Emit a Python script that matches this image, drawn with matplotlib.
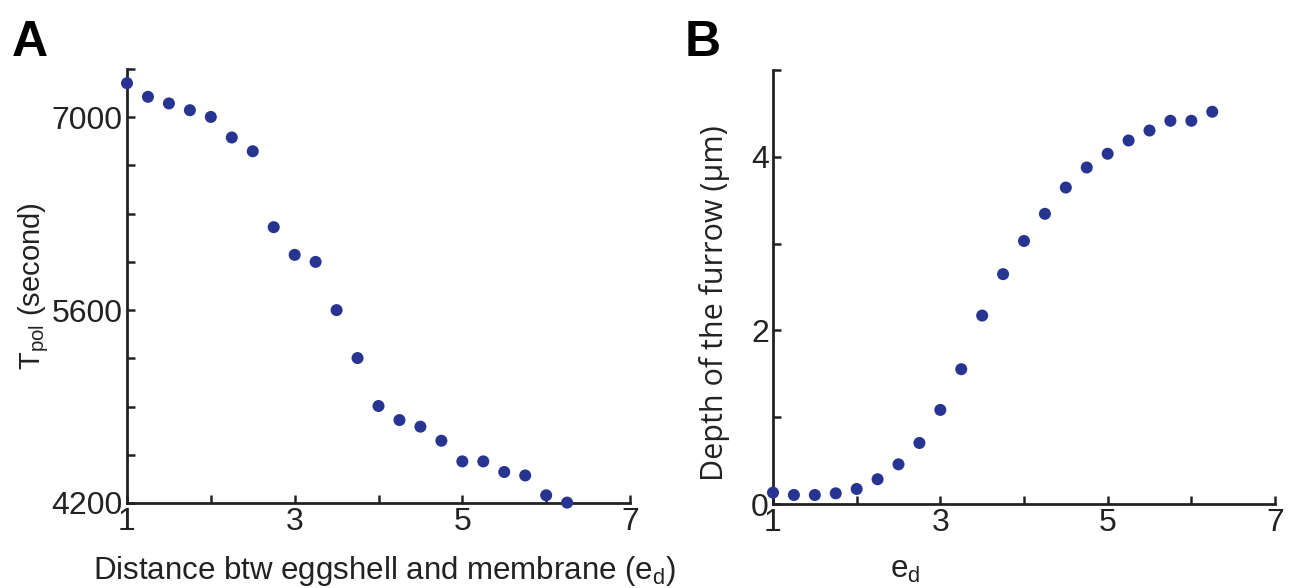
import matplotlib
matplotlib.use("Agg")
import matplotlib.pyplot as plt
from matplotlib.ticker import MultipleLocator, FixedLocator

plt.rcParams['font.family'] = ['Liberation Sans', 'DejaVu Sans']
plt.rcParams['mathtext.fontset'] = 'custom'
plt.rcParams['mathtext.rm'] = 'Liberation Sans'
plt.rcParams['mathtext.it'] = 'Liberation Sans'

# ---- data ----
ed = [1.0, 1.25, 1.5, 1.75, 2.0, 2.25, 2.5, 2.75, 3.0, 3.25, 3.5,
      3.75, 4.0, 4.25, 4.5, 4.75, 5.0, 5.25, 5.5, 5.75, 6.0, 6.25]
t_pol = [7247, 7148, 7100, 7051, 7002, 6853, 6753, 6202, 6001, 5950, 5600,
         5252, 4904, 4802, 4754, 4652, 4502, 4502, 4425, 4400, 4256, 4203]
depth = [0.131, 0.104, 0.104, 0.123, 0.173, 0.285, 0.457, 0.703, 1.084, 1.553, 2.171,
         2.648, 3.03, 3.343, 3.646, 3.877, 4.035, 4.188, 4.303, 4.415, 4.415, 4.519]

xticks_major = [1, 3, 5, 7]
yticks_A = [4200, 5600, 7000]
yticks_B = [0, 2, 4]

color = '#283491'
W, H = 1298, 588
fig = plt.figure(figsize=(W / 100, H / 100), dpi=100)

axA = fig.add_axes([127 / W, 1 - 503 / H, 503 / W, 434 / H])
axB = fig.add_axes([773 / W, 1 - 504 / H, 502 / W, 434 / H])

def style(ax):
    for s in ['top', 'right']:
        ax.spines[s].set_visible(False)
    for s in ['left', 'bottom']:
        ax.spines[s].set_linewidth(2.0)
        ax.spines[s].set_color('#222222')
    ax.tick_params(which='both', direction='in', width=1.8, color='#222222',
                   labelsize=23, labelcolor='#222222')
    ax.tick_params(which='major', length=6)
    ax.tick_params(which='minor', length=6)
    ax.tick_params(axis='y', pad=3)
    ax.tick_params(axis='x', pad=3)
    ax.set_xlim(1, 7)
    ax.xaxis.set_major_locator(FixedLocator(xticks_major))
    ax.xaxis.set_minor_locator(MultipleLocator(1))

# Panel A
axA.scatter(ed, t_pol, s=75, color=color, edgecolors='none', clip_on=False, zorder=3)
style(axA)
axA.set_ylim(4200, 7350)
axA.yaxis.set_major_locator(FixedLocator(yticks_A))
axA.yaxis.set_minor_locator(MultipleLocator(350))
axA.set_xlabel('Distance btw eggshell and membrane (e$_{\\mathregular{d}}$)',
               fontsize=22.5, color='#222222')
axA.xaxis.set_label_coords(0.513, -0.117)
axA.set_ylabel('T$_{\\mathregular{pol}}$ (second)', fontsize=21, color='#222222')
axA.yaxis.set_label_coords(-0.152, 0.5)

# Panel B
axB.scatter(ed, depth, s=75, color=color, edgecolors='none', clip_on=False, zorder=3)
style(axB)
axB.set_ylim(0, 5)
axB.yaxis.set_major_locator(FixedLocator(yticks_B))
axB.yaxis.set_minor_locator(MultipleLocator(1))
axB.set_xlabel('e$_{\\mathregular{d}}$', fontsize=22.5, color='#222222')
axB.xaxis.set_label_coords(0.263, -0.118)
axB.set_ylabel('Depth of the furrow (μm)', fontsize=22, color='#222222',
               family=['Open Sans', 'DejaVu Sans'])
axB.yaxis.set_label_coords(-0.085, 0.463)

fig.text(12 / W, 1 - 56 / H, 'A', fontsize=36, fontweight='bold', color='black')
fig.text(685 / W, 1 - 56 / H, 'B', fontsize=36, fontweight='bold', color='black')

fig.savefig('out.png', dpi=100)
